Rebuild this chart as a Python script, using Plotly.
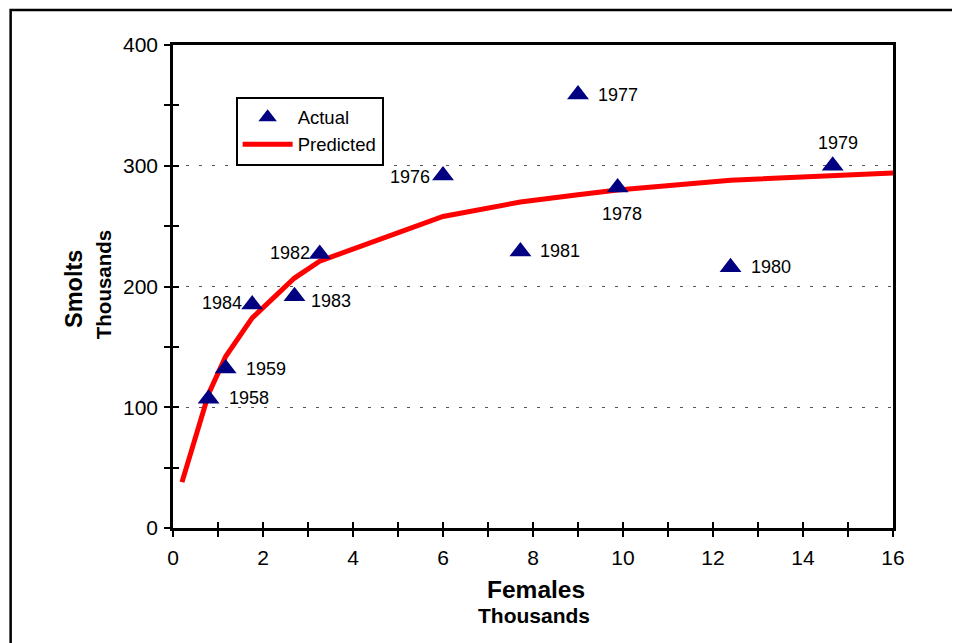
import plotly.graph_objects as go

# ---- data ----
years = ["1958", "1959", "1984", "1983", "1982", "1976", "1981", "1977", "1978", "1980", "1979"]
females_actual = [0.79, 1.17, 1.76, 2.70, 3.26, 6.00, 7.72, 9.00, 9.88, 12.39, 14.66]
smolts_actual = [107, 132, 185, 192, 227, 292, 229, 359, 282, 216, 300]

females_pred = [0.2, 0.79, 1.17, 1.76, 2.70, 3.26, 6.00, 7.72, 9.00, 9.88, 12.39, 14.66, 16.0]
smolts_pred = [38, 111, 142, 174, 207, 221, 258, 270, 276, 280, 288, 292, 294]

x_ticks = [0, 2, 4, 6, 8, 10, 12, 14, 16]
y_ticks = [0, 100, 200, 300, 400]

# label placement (style): xanchor, xshift px, yshift px
label_style = {
    "1958": ("left", 18, 1), "1959": ("left", 18, 0), "1984": ("right", -8, 2),
    "1983": ("left", 14, -5), "1982": ("right", -8, 1), "1976": ("right", -11, -2),
    "1981": ("left", 18, 0), "1977": ("left", 18, 0), "1978": ("center", 4, -27),
    "1980": ("left", 18, 0), "1979": ("center", 5, 23),
}

FONT = "Arial, Liberation Sans, sans-serif"

fig = go.Figure()

fig.add_trace(go.Scatter(
    x=females_pred, y=smolts_pred, mode="lines", name="Predicted",
    line=dict(color="#FF0000", width=5), legendrank=2,
))
fig.add_trace(go.Scatter(
    x=females_actual, y=smolts_actual, mode="markers", name="Actual",
    marker=dict(symbol="triangle-up", size=19, color="#000080"),
    legendrank=1,
))
# invisible trace to host the "inside" half of the crossing ticks
fig.add_trace(go.Scatter(x=[], y=[], xaxis="x2", yaxis="y2", showlegend=False, hoverinfo="skip"))

for yr, xv, yv in zip(years, females_actual, smolts_actual):
    anc, dx, dy = label_style[yr]
    fig.add_annotation(x=xv, y=yv, text=yr, showarrow=False, xanchor=anc, yanchor="middle",
                       xshift=dx, yshift=dy, font=dict(family=FONT, size=18, color="black"))

axis_common = dict(showline=True, linecolor="black", linewidth=2.5, zeroline=False,
                   tickcolor="black", tickwidth=2, ticklen=6)

fig.update_layout(
    width=960, height=643,
    margin=dict(l=164.5, r=75, t=37, b=122.7),
    paper_bgcolor="white", plot_bgcolor="white",
    font=dict(family=FONT, color="black"),
    showlegend=True,
    legend=dict(x=0.087, y=0.893, xanchor="left", yanchor="top",
                bgcolor="white", bordercolor="black", borderwidth=2,
                font=dict(family=FONT, size=18.5, color="black"),
                itemwidth=50, tracegroupgap=0),
    xaxis=dict(range=[0, 16], tickvals=x_ticks, ticktext=[str(v) for v in x_ticks],
               ticks="outside", showgrid=False, mirror=True, ticklabelstandoff=3,
               minor=dict(dtick=1, ticks="outside", ticklen=6, tickwidth=2, tickcolor="black"),
               tickfont=dict(size=21), **axis_common),
    yaxis=dict(range=[0, 400], tickvals=y_ticks, ticktext=[str(v) for v in y_ticks],
               ticks="outside", showgrid=True, gridcolor="#555555", gridwidth=1,
               griddash="3px,10px", mirror=True, ticklabelstandoff=2,
               minor=dict(dtick=50, ticks="outside", ticklen=6, tickwidth=2, tickcolor="black"),
               tickfont=dict(size=21), **axis_common),
    xaxis2=dict(range=[0, 16], overlaying="x", anchor="y2", tickvals=x_ticks, ticks="inside",
                ticklen=6, tickwidth=2, tickcolor="black", showticklabels=False,
                showgrid=False, showline=False, zeroline=False,
                minor=dict(dtick=1, ticks="inside", ticklen=6, tickwidth=2, tickcolor="black")),
    yaxis2=dict(range=[0, 400], overlaying="y", anchor="x2", tickvals=y_ticks, ticks="inside",
                ticklen=6, tickwidth=2, tickcolor="black", showticklabels=False,
                showgrid=False, showline=False, zeroline=False,
                minor=dict(dtick=50, ticks="inside", ticklen=6, tickwidth=2, tickcolor="black")),
)

# outer chart frame
fig.add_shape(type="rect", xref="paper", yref="paper",
              x0=-0.2255, x1=1.2, y0=-0.4, y1=1.0724,
              line=dict(color="black", width=2.5), fillcolor="rgba(0,0,0,0)", layer="below")

# axis titles
fig.add_annotation(text="<b>Females</b>", xref="paper", yref="paper", x=0.5045, y=-0.1277,
                   showarrow=False, font=dict(size=24.5, family=FONT), xanchor="center", yanchor="middle")
fig.add_annotation(text="<b>Thousands</b>", xref="paper", yref="paper", x=0.5017, y=-0.1811,
                   showarrow=False, font=dict(size=21, family=FONT), xanchor="center", yanchor="middle")
fig.add_annotation(text="<b>Smolts</b>", xref="paper", yref="paper", x=-0.1374, y=0.495,
                   showarrow=False, textangle=-90, font=dict(size=23.5, family=FONT),
                   xanchor="center", yanchor="middle")
fig.add_annotation(text="<b>Thousands</b>", xref="paper", yref="paper", x=-0.0965, y=0.5038,
                   showarrow=False, textangle=-90, font=dict(size=20.5, family=FONT),
                   xanchor="center", yanchor="middle")

fig.write_html("out.html")
